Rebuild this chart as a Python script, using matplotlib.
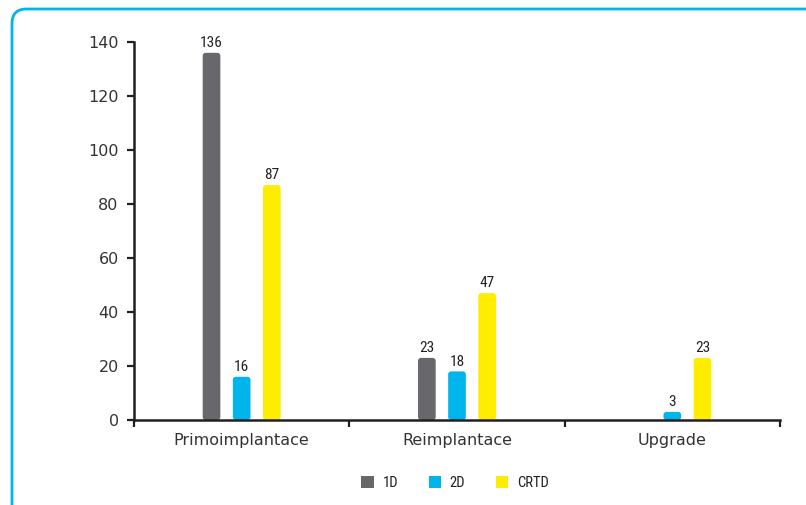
import os
import matplotlib
matplotlib.use("Agg")
import matplotlib.pyplot as plt
import numpy as np
from matplotlib import font_manager
from matplotlib.patches import FancyBboxPatch, Patch
from matplotlib.ticker import FixedLocator, NullFormatter

# -------------------------
# Data
# -------------------------
categories = ["Primoimplantace", "Reimplantace", "Upgrade"]
series_names = ["1D", "2D", "CRTD"]
values_1d = [136, 23, 0]
values_2d = [16, 18, 3]
values_crtd = [87, 47, 23]
y_ticks = [0, 20, 40, 60, 80, 100, 120, 140]

colors = {"1D": "#68686c", "2D": "#00b4ec", "CRTD": "#ffed00"}
frame_blue = "#00b4ec"
text_dark = "#231f20"

# narrow face for value labels and legend, in order of preference
preferred = [
    "robotocondensed-regular",
    "liberationsansnarrow-regular",
    "dejavusanscondensed",
    "opensans_condensed-regular",
    "opensanscondensed-regular",
]
system_fonts = {os.path.splitext(os.path.basename(f))[0].lower(): f
                for f in font_manager.findSystemFonts()}
narrow_file = next((system_fonts[p] for p in preferred if p in system_fonts), None)
if narrow_file:
    narrow_prop = font_manager.FontProperties(fname=narrow_file, size=11)
else:
    narrow_prop = font_manager.FontProperties(family="DejaVu Sans", size=10)

W, H, DPI = 806, 505, 100
fig = plt.figure(figsize=(W / DPI, H / DPI), dpi=DPI)

# outer rounded frame, running off the right and bottom edges
frame = FancyBboxPatch(
    (12 / W, -0.2), 1.2, (H - 9) / H + 0.2,
    boxstyle="round,pad=0,rounding_size=0.018",
    transform=fig.transFigure, fill=False, ec=frame_blue, lw=2.0,
    mutation_aspect=W / H, clip_on=False,
)
fig.patches.append(frame)

ax_l, ax_r = 134 / W, 780 / W
ax_b, ax_t = (H - 420) / H, (H - 42) / H
ax = fig.add_axes([ax_l, ax_b, ax_r - ax_l, ax_t - ax_b])

x = np.arange(len(categories))
bar_w = 0.082
offset = 0.14
series_vals = [values_1d, values_2d, values_crtd]

# px per data unit, used to keep the rounded tops circular
px_x = (ax_r - ax_l) * W / 3.0
px_y = (ax_t - ax_b) * H / 140.0
r_px = 3.0
for i, (name, vals) in enumerate(zip(series_names, series_vals)):
    xs = x + (i - 1) * offset
    for xi, v in zip(xs, vals):
        if v <= 0:
            continue
        p = FancyBboxPatch(
            (xi - bar_w / 2, 0), bar_w, v,
            boxstyle=f"round,pad=0,rounding_size={r_px / px_x}",
            mutation_aspect=px_x / px_y,
            fc=colors[name], ec="none", zorder=2,
        )
        ax.add_patch(p)
        ax.text(xi, v + 1.0, str(v), ha="center", va="bottom",
                fontproperties=narrow_prop, color=text_dark)

ax.set_xlim(-0.5, 2.5)
ax.set_ylim(0, 140)

ax.spines["top"].set_visible(False)
ax.spines["right"].set_visible(False)
for s in ("left", "bottom"):
    ax.spines[s].set_color(text_dark)
    ax.spines[s].set_linewidth(1.8)
    ax.spines[s].set_zorder(3)

ax.set_yticks(y_ticks)
ax.tick_params(axis="y", direction="out", length=5, width=1.6, color=text_dark,
               labelsize=11.5, labelcolor="#333333", pad=6)

ax.set_xticks(x)
ax.set_xticklabels(categories)
ax.xaxis.set_minor_locator(FixedLocator([-0.5, 0.5, 1.5, 2.5]))
ax.xaxis.set_minor_formatter(NullFormatter())
ax.tick_params(axis="x", which="major", length=0, labelsize=11.5,
               labelcolor="#333333", pad=9)
ax.tick_params(axis="x", which="minor", direction="out", length=5, width=1.6,
               color=text_dark)
for lbl in ax.get_xticklabels() + ax.get_yticklabels():
    lbl.set_family(["DejaVu Sans"])

legend_prop = narrow_prop.copy()
legend_prop.set_size(narrow_prop.get_size() - 0.5)
handles = [Patch(fc=colors[n], ec="none", label=n) for n in series_names]
leg = fig.legend(
    handles=handles, loc="center", bbox_to_anchor=(455 / W, 22 / H),
    ncol=3, frameon=False, handlelength=0.85, handleheight=0.85,
    handletextpad=0.6, columnspacing=2.1, prop=legend_prop,
)
for t in leg.get_texts():
    t.set_color(text_dark)

fig.savefig("out.png", dpi=DPI)
